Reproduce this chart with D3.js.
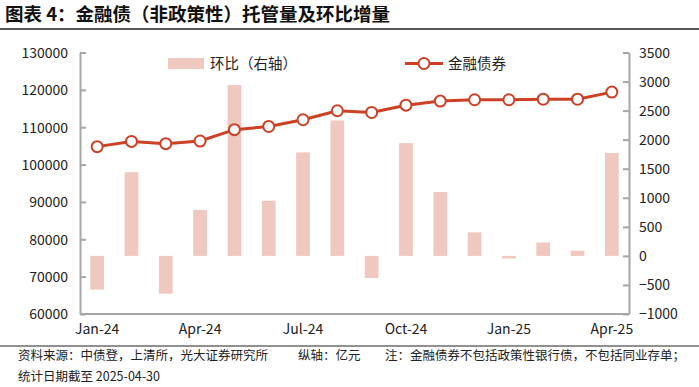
<!DOCTYPE html>
<html>
<head>
<meta charset="utf-8">
<script src="https://cdn.jsdelivr.net/npm/d3@7"></script>
<style>
  body { margin: 0; background: #fff; }
  svg { display: block; font-family: "Noto Sans CJK SC", "Noto Sans", sans-serif; }
  .axis text { font-size: 14px; fill: #222; font-family: "Noto Sans CJK SC", sans-serif; }
  .axis path, .axis line { stroke: #a6a6a6; stroke-width: 2; }
</style>
</head>
<body>
<div id="chart"></div>
<script>
const months = ["Jan-24","Feb-24","Mar-24","Apr-24","May-24","Jun-24","Jul-24","Aug-24","Sep-24","Oct-24","Nov-24","Dec-24","Jan-25","Feb-25","Mar-25","Apr-25"];
const custody = [104800, 106200, 105600, 106300, 109350, 110200, 112000, 114400, 113950, 115900, 117000, 117350, 117350, 117500, 117500, 119400];
const momChange = [-580, 1440, -650, 790, 2940, 950, 1780, 2330, -380, 1940, 1100, 405, -45, 230, 90, 1770];
const xTickLabels = ["Jan-24","Apr-24","Jul-24","Oct-24","Jan-25","Apr-25"];
const leftTicks = [60000, 70000, 80000, 90000, 100000, 110000, 120000, 130000];
const rightTicks = [-1000, -500, 0, 500, 1000, 1500, 2000, 2500, 3000, 3500];

const width = 699, height = 387;
const marginLeft = 80, marginRight = 70, plotTop = 52.5, plotBottom = 314;

const svg = d3.select('#chart').append('svg')
  .attr('width', width)
  .attr('height', height);

// title
svg.append('text')
  .attr('x', 5).attr('y', 21)
  .style('font-size', '18.5px').style('font-weight', 'bold').style('fill', '#111')
  .text('图表 4：金融债（非政策性）托管量及环比增量');
svg.append('line')
  .attr('x1', 0).attr('x2', width).attr('y1', 29).attr('y2', 29)
  .attr('stroke', '#222').attr('stroke-width', 1.5);

// scales
const x = d3.scaleBand().domain(months).range([marginLeft, width - marginRight]).paddingInner(0.6).paddingOuter(0.3);
const yLeft = d3.scaleLinear().domain([60000, 130000]).range([plotBottom, plotTop]);
const yRight = d3.scaleLinear().domain([-1000, 3500]).range([plotBottom, plotTop]);
const cx = d => x(d) + x.bandwidth() / 2;

// bars
svg.selectAll('.bar').data(momChange).join('rect')
  .attr('class', 'bar')
  .attr('x', (d, i) => x(months[i]))
  .attr('width', x.bandwidth())
  .attr('y', d => yRight(Math.max(0, d)))
  .attr('height', d => Math.abs(yRight(d) - yRight(0)))
  .attr('fill', '#efc8bf');

// axes
svg.append('g').attr('class', 'axis')
  .attr('transform', `translate(${marginLeft},0)`)
  .call(d3.axisLeft(yLeft).tickValues(leftTicks).tickFormat(d3.format('d')).tickSize(-6).tickPadding(12).tickSizeOuter(0))
  .call(g => g.selectAll('text').attr('dy', '0.35em'));

svg.append('g').attr('class', 'axis')
  .attr('transform', `translate(${width - marginRight},0)`)
  .call(d3.axisRight(yRight).tickValues(rightTicks).tickFormat(d3.format('d')).tickSize(-6).tickPadding(10).tickSizeOuter(0))
  .call(g => g.selectAll('text').attr('dy', '0.35em'));

svg.append('g').attr('class', 'axis')
  .attr('transform', `translate(0,${plotBottom})`)
  .call(d3.axisBottom(x).tickValues(xTickLabels).tickSize(0).tickPadding(10).tickSizeOuter(0))
  .call(g => g.select('.domain').attr('d', `M${marginLeft},0H${width - marginRight}`));

// line
const line = d3.line().x((d, i) => cx(months[i])).y(d => yLeft(d));
svg.append('path').datum(custody)
  .attr('d', line)
  .attr('fill', 'none')
  .attr('stroke', '#cc4125')
  .attr('stroke-width', 3);

svg.selectAll('.dot').data(custody).join('circle')
  .attr('class', 'dot')
  .attr('cx', (d, i) => cx(months[i]))
  .attr('cy', d => yLeft(d))
  .attr('r', 5.5)
  .attr('fill', '#fff')
  .attr('stroke', '#cc4125')
  .attr('stroke-width', 2);

// legend
const legend = svg.append('g');
legend.append('rect').attr('x', 168).attr('y', 58).attr('width', 36).attr('height', 11).attr('fill', '#efc8bf');
legend.append('text').attr('x', 210).attr('y', 68.5).style('font-size', '14.5px').style('fill', '#222').text('环比（右轴）');
legend.append('line').attr('x1', 405).attr('x2', 443).attr('y1', 63.5).attr('y2', 63.5).attr('stroke', '#cc4125').attr('stroke-width', 3);
legend.append('circle').attr('cx', 424).attr('cy', 63.5).attr('r', 5.5).attr('fill', '#fff').attr('stroke', '#cc4125').attr('stroke-width', 2);
legend.append('text').attr('x', 448).attr('y', 68.5).style('font-size', '14.5px').style('fill', '#222').text('金融债券');

// footer
svg.append('line')
  .attr('x1', 0).attr('x2', width).attr('y1', 346).attr('y2', 346)
  .attr('stroke', '#222').attr('stroke-width', 1);
const foot = svg.append('g').style('font-size', '12.5px').style('fill', '#222');
foot.append('text').attr('x', 18).attr('y', 360).text('资料来源：中债登，上清所，光大证券研究所');
foot.append('text').attr('x', 298).attr('y', 360).text('纵轴：亿元');
foot.append('text').attr('x', 385).attr('y', 360).text('注：金融债券不包括政策性银行债，不包括同业存单；');
foot.append('text').attr('x', 18).attr('y', 381).text('统计日期截至 2025-04-30');
</script>
</body>
</html>
